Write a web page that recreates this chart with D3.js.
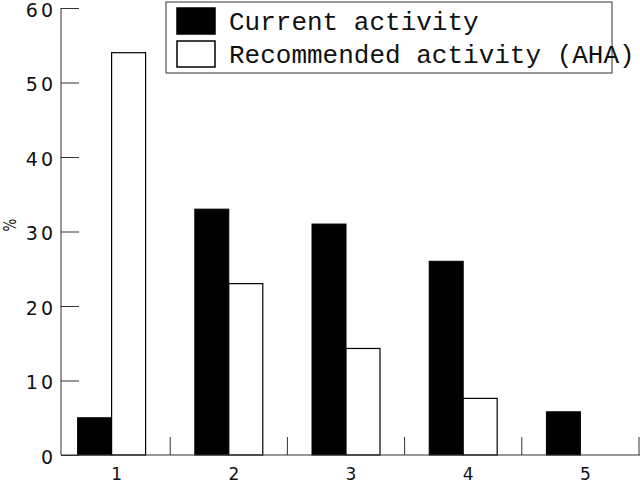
<!DOCTYPE html>
<html>
<head>
<meta charset="utf-8">
<script src="https://cdn.jsdelivr.net/npm/d3@7"></script>
<style>
  body { margin: 0; background: #fff; }
  svg { display: block; }
  .tick-label { font-family: "DejaVu Sans", sans-serif; fill: #111; }
  .legend-text { font-family: "Liberation Mono", monospace; font-size: 26px; fill: #111; }
</style>
</head>
<body>
<div id="chart"></div>
<script>
// values
let categories = ["1", "2", "3", "4", "5"];
let current = [5, 33, 31, 26, 5.8];
let recommended = [54, 23, 14.3, 7.6, 0];
let yTicks = [0, 10, 20, 30, 40, 50, 60];
let seriesNames = ["Current activity", "Recommended activity (AHA)"];

let width = 640, height = 483;

let svg = d3.select("#chart").append("svg")
  .attr("width", width)
  .attr("height", height);

let x = d3.scaleBand().domain(categories).range([53, 639]).padding(0);
let y = d3.scaleLinear().domain([0, 60]).range([455, 8]);

let barW = x.bandwidth() * 0.29;

// bars
let g = svg.append("g");
g.selectAll(".cur")
  .data(current)
  .enter()
  .append("rect")
  .attr("class", "cur")
  .attr("x", (d, i) => x(categories[i]) + x.bandwidth() / 2 - barW)
  .attr("y", d => y(d))
  .attr("width", barW)
  .attr("height", d => y(0) - y(d))
  .attr("fill", "#000")
  .attr("stroke", "#000");

g.selectAll(".rec")
  .data(recommended)
  .enter()
  .filter(d => d > 0)
  .append("rect")
  .attr("class", "rec")
  .attr("x", (d, i) => x(categories[recommended.indexOf(d)]) + x.bandwidth() / 2)
  .attr("y", d => y(d))
  .attr("width", barW)
  .attr("height", d => y(0) - y(d))
  .attr("fill", "#fff")
  .attr("stroke", "#000")
  .attr("stroke-width", 1.2);

// y axis, ticks pointing inward
let yAxis = d3.axisRight(y).tickValues(yTicks).tickSize(18).tickFormat("");
let ya = svg.append("g").attr("transform", "translate(61,0)").call(yAxis);
ya.select(".domain").attr("stroke", "#333").attr("d", "M0," + y(60) + "V" + y(0));
ya.selectAll(".tick line").attr("stroke", "#333");

svg.selectAll(".ylab")
  .data(yTicks)
  .enter()
  .append("text")
  .attr("class", "tick-label ylab")
  .attr("x", 56)
  .attr("y", d => y(d) + 8.5)
  .attr("text-anchor", "end")
  .attr("font-size", "19px")
  .attr("letter-spacing", "3px")
  .text(d => d);

svg.append("text")
  .attr("class", "tick-label")
  .attr("transform", "translate(16,225) rotate(-90) scale(0.75,1)")
  .attr("text-anchor", "middle")
  .attr("font-size", "18px")
  .text("%");

// x axis: ticks at band boundaries, pointing up
let xa = svg.append("g");
xa.append("line")
  .attr("x1", 61).attr("x2", 640)
  .attr("y1", y(0)).attr("y2", y(0))
  .attr("stroke", "#333");
xa.selectAll(".xt")
  .data(categories)
  .enter()
  .append("line")
  .attr("x1", d => x(d) + x.bandwidth())
  .attr("x2", d => x(d) + x.bandwidth())
  .attr("y1", y(0))
  .attr("y2", y(0) - 18)
  .attr("stroke", "#333");

svg.selectAll(".xlab")
  .data(categories)
  .enter()
  .append("text")
  .attr("class", "tick-label xlab")
  .attr("x", d => x(d) + x.bandwidth() / 2 + 5)
  .attr("y", 480)
  .attr("text-anchor", "middle")
  .attr("font-size", "17px")
  .text(d => d);

// legend
let leg = svg.append("g");
leg.append("rect")
  .attr("x", 166).attr("y", 2)
  .attr("width", 446).attr("height", 71)
  .attr("fill", "#fff")
  .attr("stroke", "#333");
leg.selectAll(".sw")
  .data(seriesNames)
  .enter()
  .append("rect")
  .attr("x", 177)
  .attr("y", (d, i) => 8 + i * 33)
  .attr("width", 38)
  .attr("height", 26)
  .attr("fill", (d, i) => i == 0 ? "#000" : "#fff")
  .attr("stroke", "#000")
  .attr("stroke-width", 1.5);
leg.selectAll(".legend-text")
  .data(seriesNames)
  .enter()
  .append("text")
  .attr("class", "legend-text")
  .attr("x", 229)
  .attr("y", (d, i) => 30 + i * 33)
  .text(d => d);
</script>
</body>
</html>
